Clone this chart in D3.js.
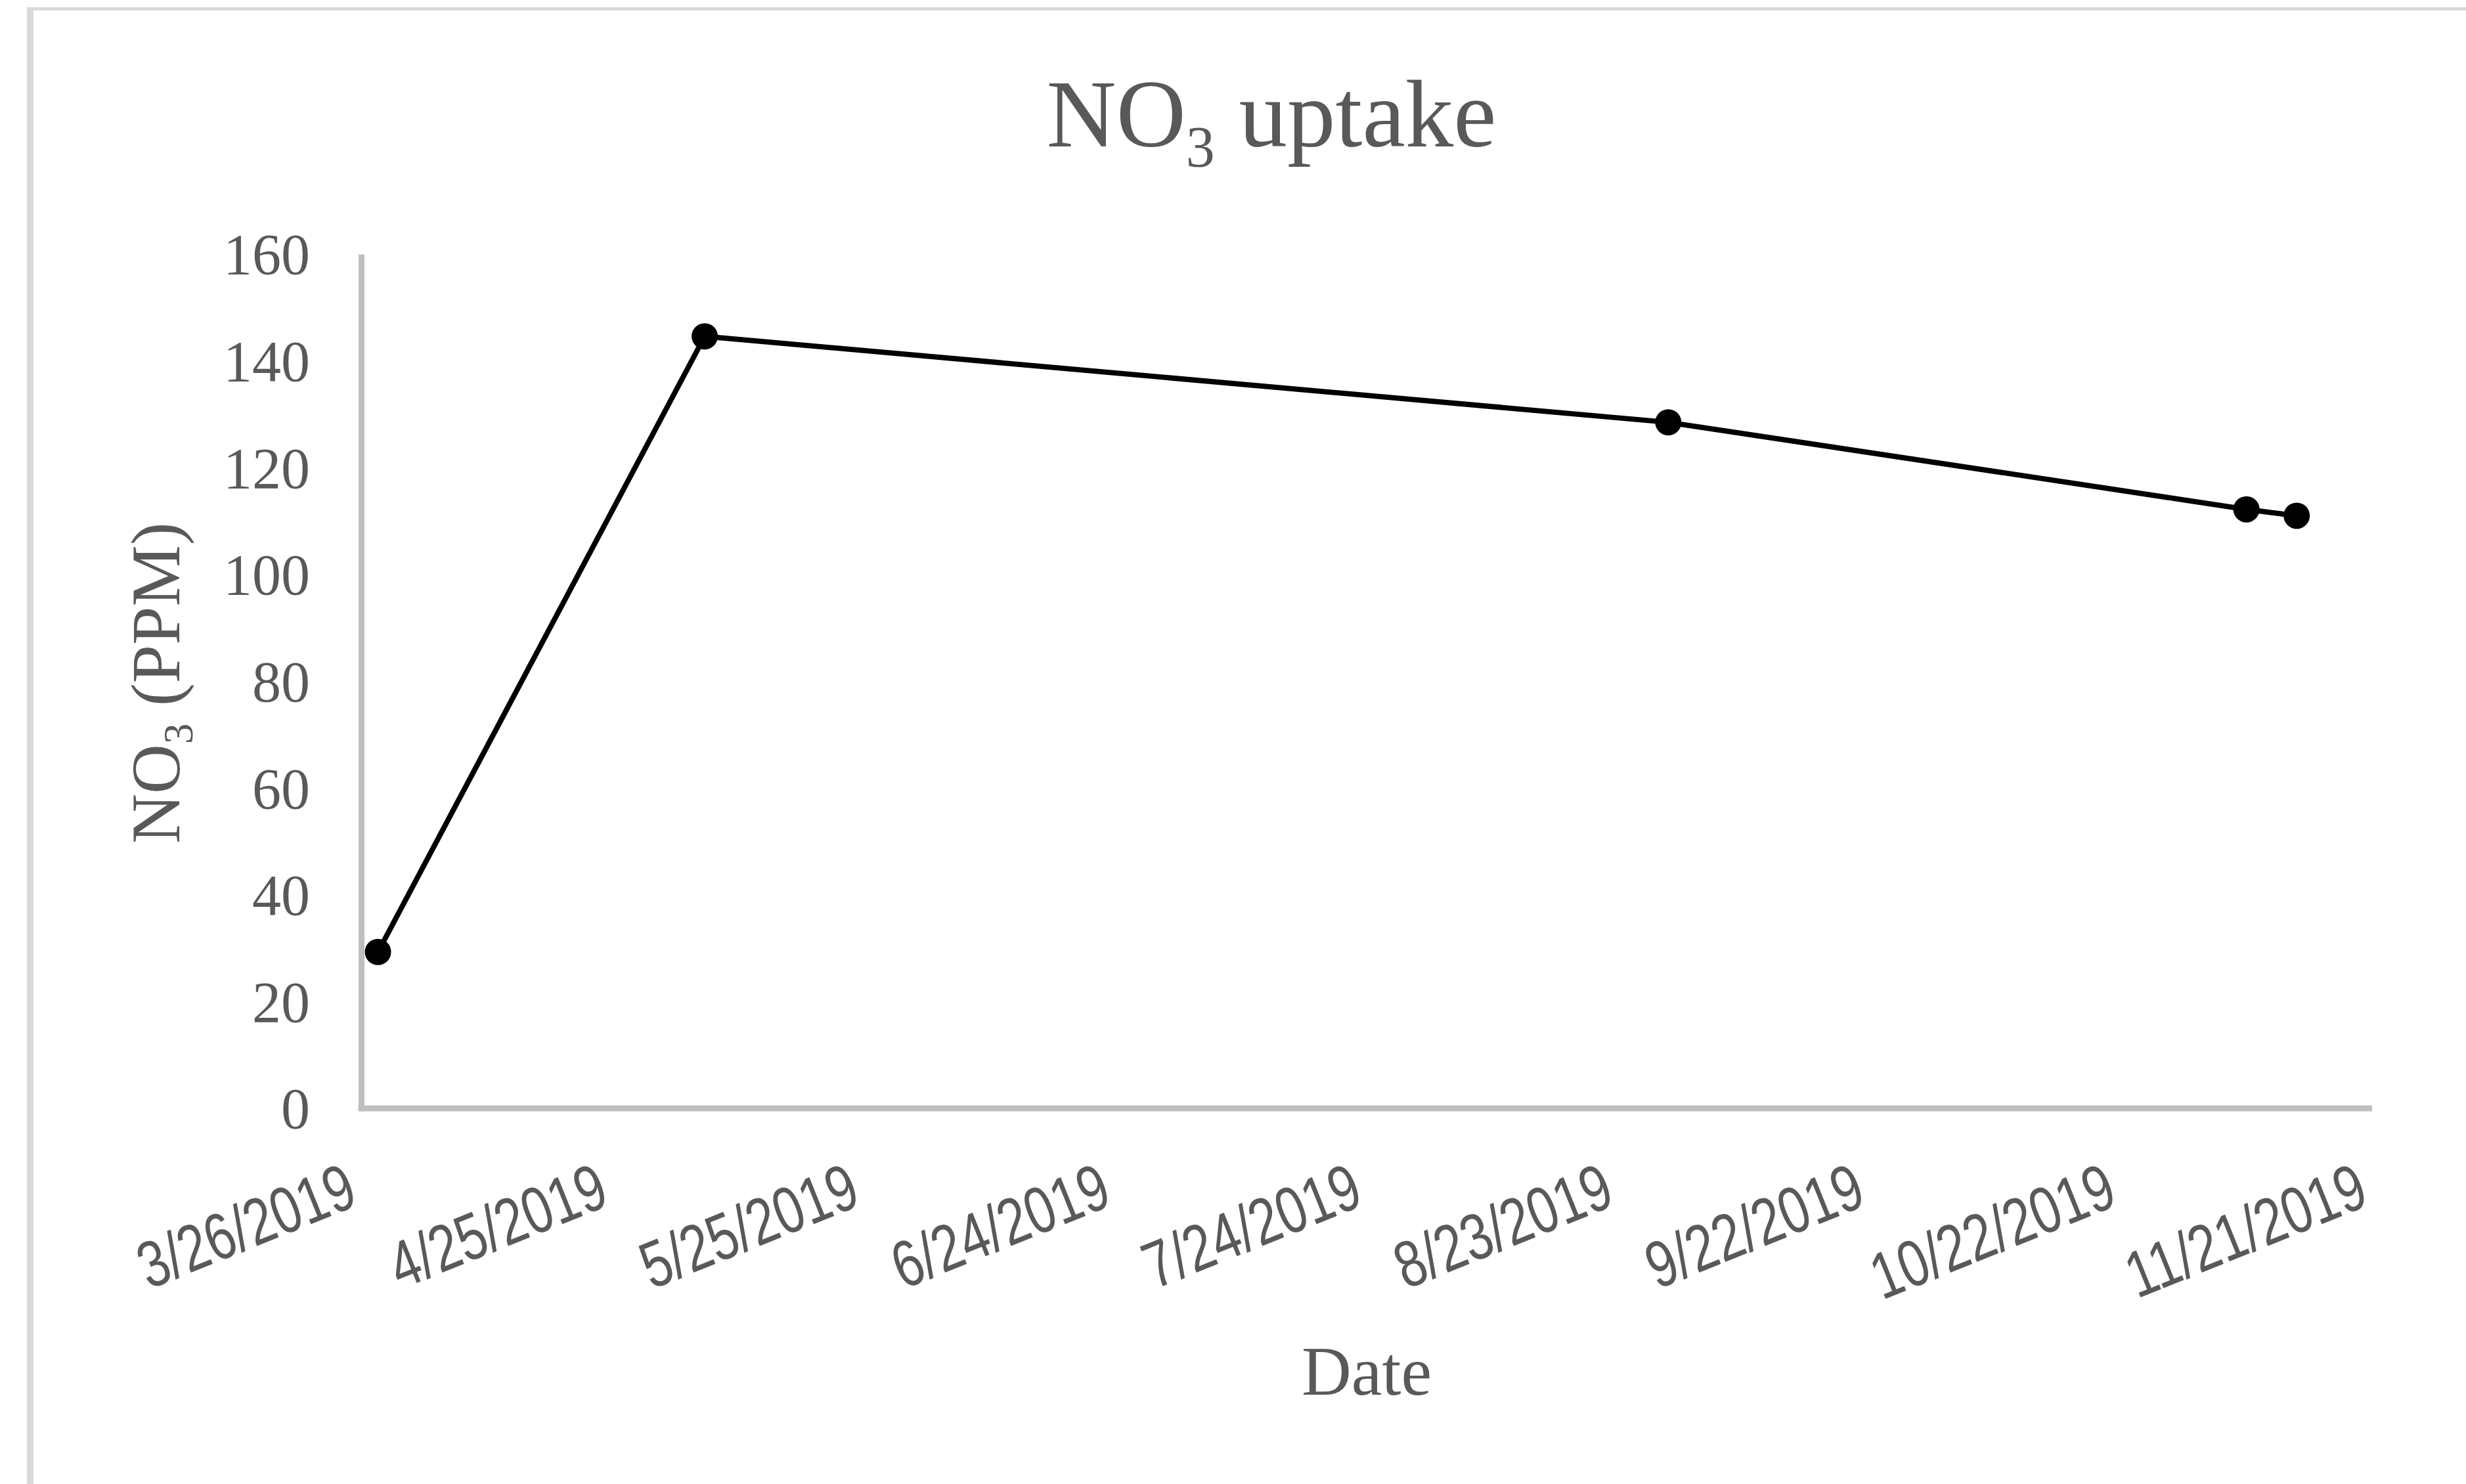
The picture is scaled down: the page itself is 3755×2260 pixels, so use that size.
<!DOCTYPE html>
<html>
<head>
<meta charset="utf-8">
<script src="https://cdn.jsdelivr.net/npm/d3@7"></script>
<style>
  html, body { margin: 0; padding: 0; background: #ffffff; }
  svg { display: block; }
</style>
</head>
<body>
<script>
// Sampling dates and measured nitrate concentrations
const sampleDates = ["3/28/2019", "5/6/2019", "8/29/2019", "11/6/2019", "11/12/2019"];
const no3Values = [29.3, 144.6, 128.5, 112.2, 111.0];

// Axis ticks
const xTickLabels = ["3/26/2019", "4/25/2019", "5/25/2019", "6/24/2019", "7/24/2019",
                     "8/23/2019", "9/22/2019", "10/22/2019", "11/21/2019"];
const yTickValues = [0, 20, 40, 60, 80, 100, 120, 140, 160];

const W = 3755, H = 2260;
const textGrey = "#595959";
const axisGrey = "#bfbfbf";
const serif = "'Liberation Serif', 'Times New Roman', serif";
const sans = "'Liberation Sans', Arial, sans-serif";

const parse = d3.utcParse("%m/%d/%Y");
const points = sampleDates.map((d, i) => ({ date: parse(d), value: no3Values[i] }));
const xTicks = xTickLabels.map(parse);

const plot = { left: 550, right: 3612, top: 387, bottom: 1688 };

const x = d3.scaleUtc()
  .domain([xTicks[0], xTicks[xTicks.length - 1]])
  .range([plot.left, plot.right]);
const y = d3.scaleLinear()
  .domain([0, 160])
  .range([plot.bottom, plot.top]);

const svg = d3.select("body").append("svg")
  .attr("width", W).attr("height", H);

// Chart area frame (only its top and left edges fall inside the page)
svg.append("line")
  .attr("x1", 41).attr("x2", W).attr("y1", 13.5).attr("y2", 13.5)
  .attr("stroke", "#d9d9d9").attr("stroke-width", 5);
svg.append("line")
  .attr("x1", 46).attr("x2", 46).attr("y1", 11).attr("y2", H)
  .attr("stroke", "#d9d9d9").attr("stroke-width", 10);

// Title: NO3 uptake
const title = svg.append("text")
  .attr("x", 1936).attr("y", 223)
  .attr("text-anchor", "middle")
  .attr("font-family", serif)
  .attr("font-size", 147)
  .attr("fill", textGrey);
title.append("tspan").text("NO");
title.append("tspan").attr("font-size", 88).attr("dy", 30).text("3");
title.append("tspan").attr("dy", -30).text(" uptake");

// Y axis
const yAxis = svg.append("g")
  .attr("transform", `translate(${plot.left},0)`)
  .call(d3.axisLeft(y).tickValues(yTickValues).tickSize(0).tickPadding(78).tickFormat(d3.format("d")));
yAxis.select(".domain").attr("stroke", axisGrey).attr("stroke-width", 9);
yAxis.selectAll("text")
  .attr("font-family", serif)
  .attr("font-size", 88)
  .attr("fill", textGrey)
  .attr("dy", "0.34em");

// X axis with slanted, condensed date labels
const xAxis = svg.append("g")
  .attr("transform", `translate(0,${plot.bottom})`)
  .call(d3.axisBottom(x).tickValues(xTicks).tickSize(0)
    .tickFormat((d, i) => xTickLabels[i]));
xAxis.select(".domain")
  .attr("stroke", axisGrey).attr("stroke-width", 9)
  .attr("d", `M${plot.left - 4.5},0H${plot.right}`);
xAxis.selectAll("text")
  .attr("y", 0).attr("dy", 0)
  .attr("text-anchor", "end")
  .attr("font-family", sans)
  .attr("font-size", 100)
  .attr("fill", textGrey)
  .attr("transform", "translate(-2,146) rotate(-22) scale(0.78,1)");

// Axis titles
const yTitle = svg.append("text")
  .attr("transform", "translate(273,1040) rotate(-90)")
  .attr("text-anchor", "middle")
  .attr("font-family", serif)
  .attr("font-size", 105)
  .attr("fill", textGrey);
yTitle.append("tspan").text("NO");
yTitle.append("tspan").attr("font-size", 63).attr("dy", 20).text("3");
yTitle.append("tspan").attr("dy", -20).text(" (PPM)");

svg.append("text")
  .attr("x", (plot.left + plot.right) / 2).attr("y", 2124)
  .attr("text-anchor", "middle")
  .attr("font-family", serif)
  .attr("font-size", 105)
  .attr("fill", textGrey)
  .text("Date");

// Series line and markers
const line = d3.line()
  .x(d => x(d.date))
  .y(d => y(d.value));

svg.append("path")
  .datum(points)
  .attr("d", line)
  .attr("fill", "none")
  .attr("stroke", "#000000")
  .attr("stroke-width", 8)
  .attr("stroke-linejoin", "round");

svg.append("g")
  .selectAll("circle")
  .data(points)
  .join("circle")
  .attr("cx", d => x(d.date))
  .attr("cy", d => y(d.value))
  .attr("r", 20)
  .attr("fill", "#000000");
</script>
</body>
</html>
